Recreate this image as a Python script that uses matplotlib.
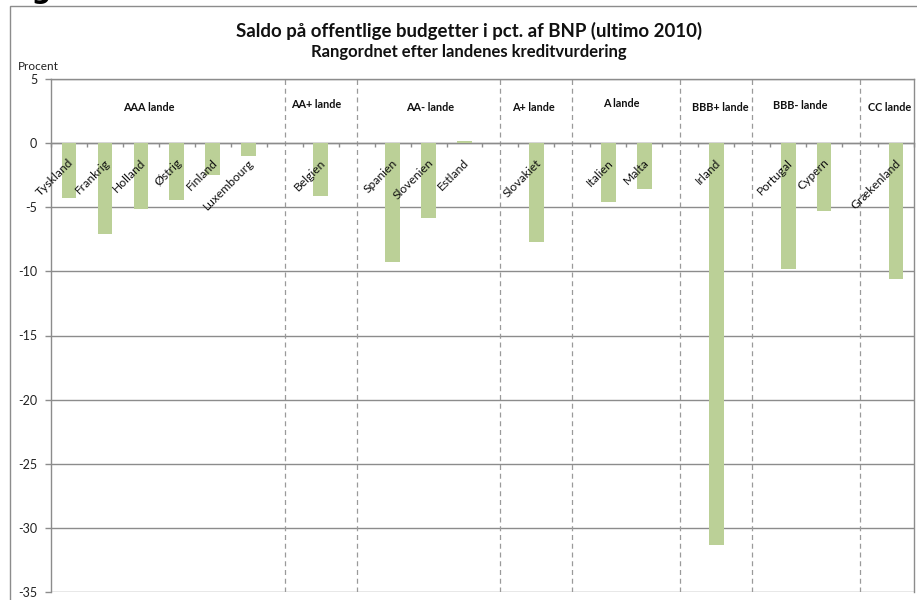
import numpy as np
import matplotlib.pyplot as plt
from matplotlib.patches import Rectangle

# categories in chart order; "" marks the empty slot that carries a group divider
countries = ["Tyskland", "Frankrig", "Holland", "Østrig", "Finland", "Luxembourg", "",
             "Belgien", "",
             "Spanien", "Slovenien", "Estland", "",
             "Slovakiet", "",
             "Italien", "Malta", "",
             "Irland", "",
             "Portugal", "Cypern", "",
             "Grækenland"]
saldo = [-4.3, -7.1, -5.1, -4.4, -2.5, -1.0, np.nan,
         -4.1, np.nan,
         -9.3, -5.8, 0.2, np.nan,
         -7.7, np.nan,
         -4.6, -3.6, np.nan,
         -31.3, np.nan,
         -9.8, -5.3, np.nan,
         -10.6]
groups = ["AAA lande", "AA+ lande", "AA- lande", "A+ lande", "A lande",
          "BBB+ lande", "BBB- lande", "CC lande"]
yticks = [5, 0, -5, -10, -15, -20, -25, -30, -35]

# label placement (x in category units, y in data units)
group_pos = [(2.22, 2.8), (6.87, 3.0), (10.04, 2.8), (12.93, 2.8), (15.35, 3.1),
             (18.1, 2.8), (20.33, 2.9), (22.83, 2.8)]

FONT = ["Lato", "DejaVu Sans"]
GREEN = "#BBD097"
GRID = "#8c8c8c"

plt.rcParams["font.family"] = FONT

W, H = 917, 600
fig = plt.figure(figsize=(W / 100, H / 100), dpi=100)

# outer chart frame (only left and top edges are visible in the crop)
fig.patches.append(Rectangle((10 / W, -0.1), 1.2, 1.1 - 6 / H, transform=fig.transFigure,
                             fill=False, edgecolor=GRID, linewidth=1.0))
# descender of the page caption that sits above the chart
fig.text(3 / W, 1 + 1.5 / H, "Figur", fontsize=20, fontweight="bold", va="baseline",
         family="DejaVu Sans")

ax = fig.add_axes([51 / W, 8 / H, 863 / W, 513 / H])
x = np.arange(len(countries))
vals = np.array(saldo, dtype=float)
ax.bar(x, vals, width=0.41, color=GREEN, zorder=3)

ax.set_xlim(-0.5, len(countries) - 0.5)
ax.set_ylim(-35, 5)
ax.set_yticks(yticks)
ax.set_yticklabels([str(t) for t in yticks], fontsize=9, color="#222222")
for t in yticks:
    ax.axhline(t, color=GRID, linewidth=1.0, zorder=1)

# group dividers at the empty slots
for i, c in enumerate(countries):
    if c == "":
        ax.axvline(i, color="#9a9a9a", linewidth=0.9, linestyle=(0, (4, 3)), zorder=2)

# category axis on the zero line with ticks between slots
ax.spines["bottom"].set_position(("data", 0))
ax.spines["bottom"].set_color(GRID)
ax.set_xticks(np.arange(-0.5, len(countries) + 0.5, 1.0))
ax.set_xticklabels([])
ax.tick_params(axis="x", direction="out", length=3, color=GRID, width=1)
ax.tick_params(axis="y", direction="out", length=4, color=GRID, width=1, pad=6)
for s in ("top", "right", "left"):
    ax.spines[s].set_color(GRID)
    ax.spines[s].set_linewidth(1.0)
ax.spines["bottom"].set_linewidth(1.0)

for i, c in enumerate(countries):
    if c:
        ax.text(i + 0.08, -1.4, c, rotation=45, rotation_mode="anchor",
                ha="right", va="center", fontsize=8.7, color="#111111", zorder=4)

for g, (gx, gy) in zip(groups, group_pos):
    ax.text(gx, gy, g, ha="center", va="center", fontsize=7.8, fontweight="bold",
            color="#111111")

fig.text(38 / W, 1 - 67 / H, "Procent", ha="center", va="center", fontsize=8.5,
         color="#222222")
fig.text(469 / W, 1 - 31 / H, "Saldo på offentlige budgetter i pct. af BNP (ultimo 2010)",
         ha="center", va="center", fontsize=13.4, fontweight="bold", color="#111111")
fig.text(469 / W, 1 - 52 / H, "Rangordnet efter landenes kreditvurdering",
         ha="center", va="center", fontsize=12, fontweight="bold", color="#111111")

fig.savefig("out.png", dpi=100)
